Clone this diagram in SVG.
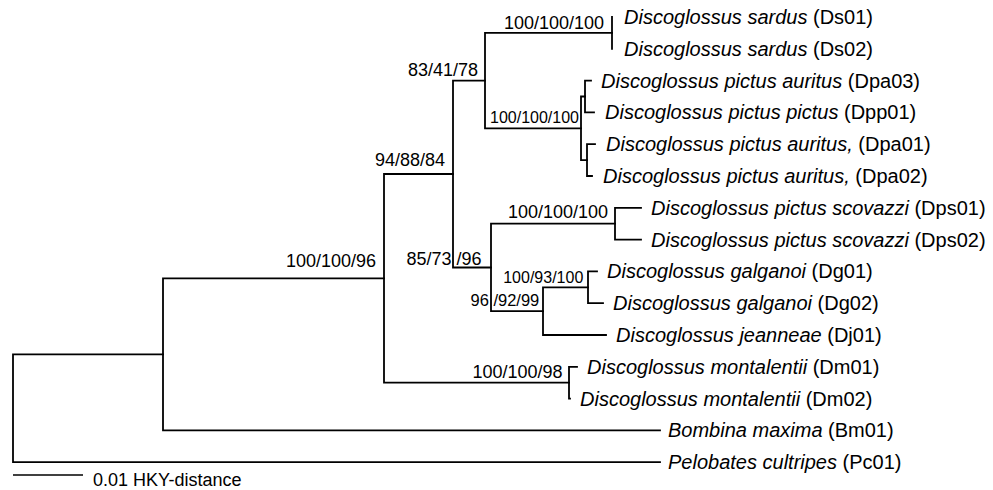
<svg xmlns="http://www.w3.org/2000/svg" width="993" height="490" viewBox="0 0 993 490">
<style>
.br{fill:none;stroke:#000;stroke-width:1.8;stroke-linecap:square}
.sp{font-family:"Liberation Sans",Arial,sans-serif;font-size:20px;fill:#000}
.sp .i{font-style:italic}
.bs{font-family:"Liberation Sans",Arial,sans-serif;font-size:18px;fill:#000;text-anchor:end}
.bs.s{font-size:16px}
</style>
<rect width="993" height="490" fill="#fff"/>
<g id="connectors" class="br">
<path d="M13 354.4V462.2M13 354.4H163M13 462.2H660"/>
<path d="M163 278.4V430.4M163 278.4H384M163 430.4H660"/>
<path d="M384 174V382.7M384 174H453M384 382.7H569"/>
<path d="M569 366.8V398.6M569 366.8H577M569 398.6H570"/>
<path d="M453 80.6V267.5M453 80.6H485M453 267.5H491"/>
<path d="M485 32.9V128.3M485 32.9H612M485 128.3H581"/>
<path d="M612 17V48.8"/>
<path d="M581 96.5V160.1M581 96.5H585M581 160.1H587"/>
<path d="M585 80.6V112.4M585 80.6H591M585 112.4H594"/>
<path d="M587 144.2V176M587 144.2H595M587 176H592"/>
<path d="M491 223.7V311.2M491 223.7H615M491 311.2H543"/>
<path d="M615 207.8V239.6M615 207.8H641M615 239.6H641"/>
<path d="M543 287.3V335M543 287.3H588M543 335H606"/>
<path d="M588 271.4V303.2M588 271.4H597M588 303.2H603"/>
</g>
<g id="scale">
<line x1="13" y1="475" x2="83" y2="475" stroke="#000" stroke-width="1.3"/>
<text x="93" y="486" font-family="Liberation Sans,Arial,sans-serif" font-size="18">0.01 HKY-distance</text>
</g>
<g id="leaf-Ds01"><text class="sp" x="624" y="24"><tspan class="i">Discoglossus sardus</tspan> (Ds01)</text></g>
<g id="leaf-Ds02"><text class="sp" x="624" y="55.8"><tspan class="i">Discoglossus sardus</tspan> (Ds02)</text></g>
<g id="leaf-Dpa03"><text class="sp" x="601" y="87.6"><tspan class="i">Discoglossus pictus auritus</tspan> (Dpa03)</text></g>
<g id="leaf-Dpp01"><text class="sp" x="605" y="119.4"><tspan class="i">Discoglossus pictus pictus</tspan> (Dpp01)</text></g>
<g id="leaf-Dpa01"><text class="sp" x="606" y="151.2"><tspan class="i">Discoglossus pictus auritus,</tspan> (Dpa01)</text></g>
<g id="leaf-Dpa02"><text class="sp" x="603" y="183"><tspan class="i">Discoglossus pictus auritus,</tspan> (Dpa02)</text></g>
<g id="leaf-Dps01"><text class="sp" x="651" y="214.8"><tspan class="i">Discoglossus pictus scovazzi</tspan> (Dps01)</text></g>
<g id="leaf-Dps02"><text class="sp" x="651" y="246.6"><tspan class="i">Discoglossus pictus scovazzi</tspan> (Dps02)</text></g>
<g id="leaf-Dg01"><text class="sp" x="607" y="278.4"><tspan class="i">Discoglossus galganoi</tspan> (Dg01)</text></g>
<g id="leaf-Dg02"><text class="sp" x="613" y="310.2"><tspan class="i">Discoglossus galganoi</tspan> (Dg02)</text></g>
<g id="leaf-Dj01"><text class="sp" x="616" y="342"><tspan class="i">Discoglossus jeanneae</tspan> (Dj01)</text></g>
<g id="leaf-Dm01"><text class="sp" x="587" y="373.8"><tspan class="i">Discoglossus montalentii</tspan> (Dm01)</text></g>
<g id="leaf-Dm02"><text class="sp" x="580" y="405.6"><tspan class="i">Discoglossus montalentii</tspan> (Dm02)</text></g>
<g id="leaf-Bm01"><text class="sp" x="668" y="437.4"><tspan class="i">Bombina maxima</tspan> (Bm01)</text></g>
<g id="leaf-Pc01"><text class="sp" x="668" y="469.2"><tspan class="i">Pelobates cultripes</tspan> (Pc01)</text></g>
<g id="node-100-100-96"><text class="bs" x="376" y="267">100/100/96</text></g>
<g id="node-94-88-84"><text class="bs" x="445" y="166">94/88/84</text></g>
<g id="node-83-41-78"><text class="bs" x="478" y="76">83/41/78</text></g>
<g id="node-ds"><text class="bs" x="604" y="29">100/100/100</text></g>
<g id="node-dpa"><text class="bs s" x="579" y="123.3">100/100/100</text></g>
<g id="node-dps"><text class="bs" x="608" y="217.7">100/100/100</text></g>
<g id="node-85-73-96"><text class="bs" x="481.5" y="265">85/73 /96</text></g>
<g id="node-96-92-99"><text class="bs s" x="539.3" y="306" style="font-size:16.5px">96 /92/99</text></g>
<g id="node-dg"><text class="bs s" x="583.3" y="282.7">100/93/100</text></g>
<g id="node-dm"><text class="bs" x="562.5" y="378">100/100/98</text></g>
</svg>
